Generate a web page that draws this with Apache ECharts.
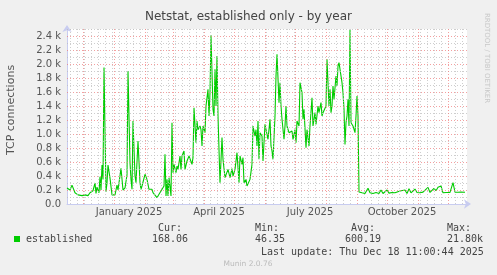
<!DOCTYPE html>
<html><head><meta charset="utf-8">
<script src="https://cdn.jsdelivr.net/npm/echarts@6/dist/echarts.min.js"></script>
<style>html,body{margin:0;padding:0;background:#f0f0f0;}#c{width:497px;height:275px;}</style>
</head><body><div id="c"></div>
<script>
// ---- data ----
const chartTitle = 'Netstat, established only - by year';
const yAxisTitle = 'TCP connections';
const seriesName = 'established';
const startDate = Date.UTC(2024, 10, 15);   // left edge of the plot
const spanDays = 400;                        // Munin "by year" = 400 days
// sample day offsets from startDate, and values (connections)
const days = [0,1,3,5,6,8,10,11,13,15,16,18,20,21,23,25,26,28,29,30,
  32,33,34,35,36,37,39,40,41,43,45,46,48,50,51,54,56,58,60,61,
  63,64,65,66,68,69,70,71,73,74,75,77,78,80,81,82,84,85,86,88,
  90,92,94,95,97,98,99,100,101,102,104,105,106,107,109,110,111,113,114,115,
  117,118,120,121,122,124,125,126,127,129,130,131,133,134,135,136,138,139,141,142,
  143,144,146,147,148,149,150,151,153,155,156,158,160,161,163,165,166,168,170,171,
  172,173,175,176,177,179,180,182,183,185,186,188,189,190,191,192,193,195,196,198,
  200,201,203,204,205,206,208,209,210,211,212,213,214,215,217,218,219,220,222,224,
  225,226,228,229,230,232,233,235,236,237,239,240,242,243,245,246,248,249,251,252,
  254,255,256,258,259,260,262,263,264,265,266,267,269,270,271,272,274,275,276,277,
  278,279,280,281,282,283,284,286,287,288,289,290,291,292,295,298,301,303,306,309,
  312,314,316,318,320,322,325,328,330,333,335,338,340,342,344,346,348,350,353,356,
  358,361,363,365,367,369,371,374,376,379,381,383,385,386,388,391,394,396,398];
const values = [229,210,200,270,250,160,170,130,110,120,100,130,140,120,160,140,190,300,150,240,
  160,390,200,557,350,1950,176,300,557,370,130,140,130,270,200,510,200,230,414,1900,
  590,352,210,1186,400,305,330,900,305,210,257,233,424,352,376,210,186,210,162,138,
  90,138,186,210,257,710,114,352,114,376,114,1162,448,567,448,543,495,686,495,686,
  757,495,614,614,686,686,567,662,1376,876,1186,1062,1114,1062,829,1114,1019,1400,1638,1257,
  1590,2410,1352,1257,1924,1400,2114,1257,305,948,638,376,352,495,376,505,400,495,733,710,
  305,686,567,662,305,352,257,233,352,567,1114,971,1062,829,1186,638,1019,971,614,1138,
  1162,924,1210,829,757,638,1257,1829,2138,2162,1448,1733,1400,1210,924,1114,1400,1114,1019,995,
  1043,924,1062,876,1186,1114,1733,1590,1210,1352,805,1062,829,1114,1519,1114,1305,1138,1400,1305,
  1448,1257,1305,1305,1400,2067,1400,1638,1305,1400,1686,1495,1829,1686,1971,2019,2043,1733,1590,1352,
  852,1162,1257,1495,1114,2486,1162,1114,1138,1019,1257,1543,1257,171,160,150,224,160,150,165,
  150,200,150,160,200,155,165,160,150,185,170,200,150,219,160,138,213,165,160,170,
  165,238,165,170,224,190,238,257,160,165,170,165,190,305,170,168,172,168,168];
const yTickStep = 200;
const yMinorStep = 100;
const yMax = 2500;
const xLabelTexts = ['January 2025','April 2025','July 2025','October 2025'];
const xLabelDates = [Date.UTC(2025,0,16), Date.UTC(2025,3,16), Date.UTC(2025,6,16), Date.UTC(2025,9,16)];
const monthStartDates = [Date.UTC(2024,11,1),Date.UTC(2025,0,1),Date.UTC(2025,1,1),Date.UTC(2025,2,1),Date.UTC(2025,3,1),Date.UTC(2025,4,1),Date.UTC(2025,5,1),Date.UTC(2025,6,1),Date.UTC(2025,7,1),Date.UTC(2025,8,1),Date.UTC(2025,9,1),Date.UTC(2025,10,1),Date.UTC(2025,11,1)];
const firstMonday = Date.UTC(2024, 10, 18);
const legendHeads = ['Cur:','Min:','Avg:','Max:'];
const legendVals = ['168.06','46.35','600.19','21.80k'];
const lastUpdate = 'Last update: Thu Dec 18 11:00:44 2025';
const footer = 'Munin 2.0.76';
const watermark = 'RRDTOOL / TOBI OETIKER';

// ---- build ----
const DAY = 86400000;
const toDay = t => Math.round((t - startDate) / DAY);
const seriesData = days.map((d, i) => [d, values[i]]);
const monthDays = monthStartDates.map(toDay);
const labelDays = xLabelDates.map(toDay);
const weekDays = [];
for (let d = toDay(firstMonday); d <= spanDays; d += 7) if (monthDays.indexOf(d) < 0) weekDays.push(d);

const GRID_MINOR = 'rgba(190,190,190,0.75)';
const GRID_MAJOR = 'rgba(240,120,120,0.7)';
const gridLines = [];
for (let v = yMinorStep; v <= yMax; v += yMinorStep) {
  gridLines.push({ yAxis: v, lineStyle: { color: v % yTickStep === 0 ? GRID_MAJOR : GRID_MINOR, type: [1, 2], width: 1 } });
}
weekDays.forEach(d => gridLines.push({ xAxis: d, lineStyle: { color: GRID_MINOR, type: [1, 2], width: 1 } }));
monthDays.forEach(d => gridLines.push({ xAxis: d, lineStyle: { color: GRID_MAJOR, type: [1, 2], width: 1 } }));

const FONT = 'DejaVu Sans';
const MONO = 'DejaVu Sans Mono';
const TXT = '#555';
const legendX = [[158, 152], [255, 255], [351, 345], [447, 447]];
const graphic = [
  { type: 'text', left: 'center', top: 11, style: { text: chartTitle, font: '12px "' + FONT + '"', fill: '#444' } },
  { type: 'text', x: 11, y: 110, rotation: Math.PI / 2, style: { text: yAxisTitle, font: '11px "' + FONT + '"', fill: TXT, align: 'center', verticalAlign: 'middle' } },
  { type: 'text', x: 487, y: 58, rotation: -Math.PI / 2, style: { text: watermark, font: '7px "' + FONT + '"', fill: '#c8c8c8', align: 'center', verticalAlign: 'middle' } },
  { type: 'rect', shape: { x: 14, y: 236, width: 6, height: 6 }, style: { fill: '#00cc00' } },
  { type: 'text', x: 26, y: 239.5, style: { text: seriesName, font: '10px "' + MONO + '"', fill: '#444', verticalAlign: 'middle' } },
  { type: 'text', x: 261, y: 252, style: { text: lastUpdate, font: '10px "' + MONO + '"', fill: '#444', verticalAlign: 'middle' } },
  { type: 'text', x: 248, y: 264, style: { text: footer, font: '7.5px "' + FONT + '"', fill: '#bbb', align: 'center', verticalAlign: 'middle' } }
];
legendHeads.forEach((h, i) => {
  graphic.push({ type: 'text', x: legendX[i][0], y: 228, style: { text: h, font: '10px "' + MONO + '"', fill: '#444', verticalAlign: 'middle' } });
  graphic.push({ type: 'text', x: legendX[i][1], y: 239.5, style: { text: legendVals[i], font: '10px "' + MONO + '"', fill: '#444', verticalAlign: 'middle' } });
});

const chart = echarts.init(document.getElementById('c'), null, { renderer: 'canvas' });
chart.setOption({
  animation: false,
  backgroundColor: '#f0f0f0',
  grid: { left: 67, top: 29, width: 400, height: 175, show: true, backgroundColor: '#ffffff', borderWidth: 0 },
  xAxis: {
    type: 'value', min: 0, max: spanDays,
    axisLine: { show: true, lineStyle: { color: '#c8ccf0', width: 1 }, symbol: ['none', 'arrow'], symbolSize: [7, 7], symbolOffset: [0, 4] },
    axisTick: { show: false },
    splitLine: { show: false },
    axisLabel: {
      customValues: labelDays, margin: 3, color: TXT, fontFamily: FONT, fontSize: 10,
      formatter: v => { const i = labelDays.indexOf(Math.round(v)); return i >= 0 ? xLabelTexts[i] : ''; }
    }
  },
  yAxis: {
    type: 'value', min: 0, max: yMax, interval: yTickStep,
    axisLine: { show: true, lineStyle: { color: '#c8ccf0', width: 1 }, symbol: ['none', 'arrow'], symbolSize: [7, 7], symbolOffset: [0, 4] },
    axisTick: { show: false },
    splitLine: { show: false },
    axisLabel: {
      margin: 6, color: TXT, fontFamily: FONT, fontSize: 10, showMaxLabel: false,
      formatter: v => v % yTickStep !== 0 ? '' : (v === 0 ? '0.0' : (v / 1000).toFixed(1) + ' k')
    }
  },
  series: [
    { type: 'line', data: [], silent: true, z: 1,
      markLine: { silent: true, symbol: ['none', 'none'], label: { show: false }, emphasis: { disabled: true }, data: gridLines, animation: false } },
    { name: seriesName, type: 'line', data: seriesData, showSymbol: false, z: 3,
      lineStyle: { color: '#00cc00', width: 1.1 }, itemStyle: { color: '#00cc00' } }
  ],
  graphic: graphic
});
</script></body></html>
